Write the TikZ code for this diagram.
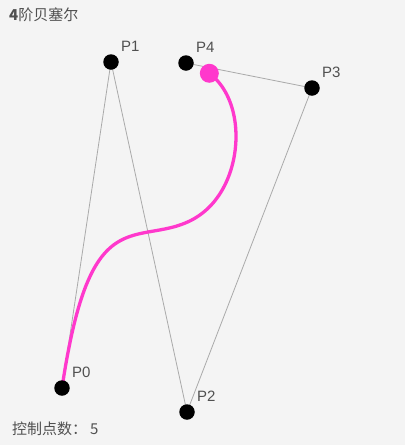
\documentclass[tikz,border=0pt]{standalone}
\usepackage{fontspec}
\setmainfont{Noto Sans CJK SC}
\newfontfamily\latinfont{Liberation Sans}
\definecolor{bgcol}{HTML}{F4F4F4}
\definecolor{txtcol}{HTML}{505050}
\definecolor{linecol}{HTML}{AAAAAA}
\definecolor{curvecol}{HTML}{FF38CC}
% quartic Bezier value of five control values at \t
\newcommand{\quartic}[5]{(1-\t)^4*#1+4*(1-\t)^3*\t*#2+6*(1-\t)^2*\t^2*#3+4*(1-\t)*\t^3*#4+\t^4*#5}
\def\tend{0.945}
\begin{document}
\begin{tikzpicture}[x=1pt,y=-1pt,
  font=\fontsize{15}{17}\selectfont,
  ctrl/.style={circle,fill=black,inner sep=0pt,minimum size=15.5pt},
  lbl/.style={text=txtcol,inner sep=0pt,anchor=base west,font=\fontsize{15}{17}\selectfont\latinfont},
  poly/.style={linecol,line width=0.8pt}]

\fill[bgcol] (0,0) rectangle (405,445);

\node[anchor=base west,inner sep=0pt,text=txtcol] (title) at (9,20) {{\bfseries 4}阶贝塞尔};
\node[anchor=base west,inner sep=0pt,text=txtcol] (count) at (12,434) {控制点数：\hspace{3pt}5};

% control polygon
\coordinate (P0) at (62,388);
\coordinate (P1) at (111,62);
\coordinate (P2) at (187,412);
\coordinate (P3) at (312,88);
\coordinate (P4) at (186,63);
\draw[poly] (P0) -- (P1) -- (P2) -- (P3) -- (P4);

% curve up to t = \tend
\draw[curvecol,line width=3.3pt,line cap=round]
  plot[domain=0:\tend,samples=120,variable=\t,smooth]
  ({\quartic{62}{111}{187}{312}{186}},{\quartic{388}{62}{412}{88}{63}});

\foreach \p in {0,...,4}
{
    \node[ctrl] (n\p) at (P\p) {};
    \node[lbl] (l\p) at ([shift={(10,-11)}]P\p) {P\p};
}

\pgfmathsetmacro{\tipx}{(1-\tend)^4*62+4*(1-\tend)^3*\tend*111+6*(1-\tend)^2*\tend^2*187+4*(1-\tend)*\tend^3*312+\tend^4*186}
\pgfmathsetmacro{\tipy}{(1-\tend)^4*388+4*(1-\tend)^3*\tend*62+6*(1-\tend)^2*\tend^2*412+4*(1-\tend)*\tend^3*88+\tend^4*63}
\node[circle,fill=curvecol,inner sep=0pt,minimum size=19pt] (tip) at (\tipx,\tipy) {};

\end{tikzpicture}
\end{document}
